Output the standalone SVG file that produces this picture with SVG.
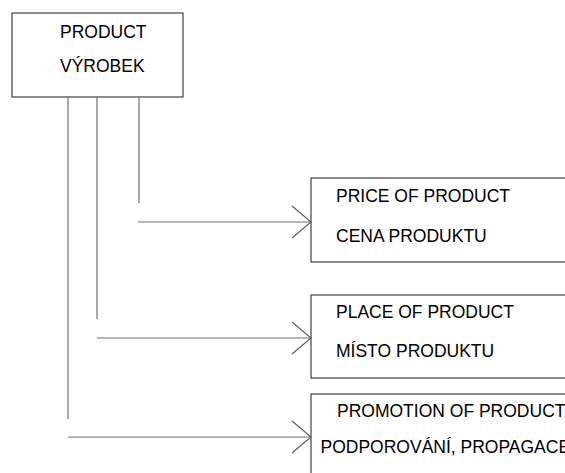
<svg xmlns="http://www.w3.org/2000/svg" width="565" height="473" viewBox="0 0 565 473">
  <style>
    .box { fill: #ffffff; stroke: #404040; stroke-width: 1.2; }
    .lbl { font-family: "Liberation Sans", Arial, sans-serif; font-size: 17.5px; fill: #000000; }
    .wire { fill: none; stroke: #707070; stroke-width: 1.2; }
    .head { fill: none; stroke: #606060; stroke-width: 1.2; }
  </style>
  <rect width="565" height="473" fill="#ffffff"/>

  <g id="product">
    <rect class="box" x="12" y="13" width="171" height="84"/>
    <text class="lbl" x="60" y="37.5">PRODUCT</text>
    <text class="lbl" x="60" y="72">VÝROBEK</text>
  </g>

  <g id="price">
    <rect class="box" x="311" y="178" width="270" height="84"/>
    <text class="lbl" x="336" y="202">PRICE OF PRODUCT</text>
    <text class="lbl" x="336" y="242">CENA PRODUKTU</text>
  </g>

  <g id="place">
    <rect class="box" x="311" y="295" width="270" height="83"/>
    <text class="lbl" x="336" y="317.5">PLACE OF PRODUCT</text>
    <text class="lbl" x="336" y="357">MÍSTO PRODUKTU</text>
  </g>

  <g id="promotion">
    <rect class="box" x="311" y="394" width="270" height="100"/>
    <text class="lbl" x="337" y="417">PROMOTION OF PRODUCT</text>
    <text class="lbl" x="320.5" y="453">PODPOROVÁNÍ, PROPAGACE</text>
  </g>

  <g id="connectors">
    <!-- drop lines from the product box -->
    <line class="wire" x1="139" y1="97" x2="139" y2="203"/>
    <line class="wire" x1="97" y1="97" x2="97" y2="319"/>
    <line class="wire" x1="68" y1="97" x2="68" y2="419"/>
    <!-- horizontal runs into each box -->
    <line class="wire" x1="138" y1="222" x2="311" y2="222"/>
    <line class="wire" x1="97" y1="338" x2="311" y2="338"/>
    <line class="wire" x1="68" y1="437" x2="311" y2="437"/>
    <!-- open arrowheads -->
    <polyline class="head" points="292,206 311,222 292,238"/>
    <polyline class="head" points="292,322 311,338 292,354"/>
    <polyline class="head" points="292,421 311,437 292,453"/>
  </g>
</svg>
